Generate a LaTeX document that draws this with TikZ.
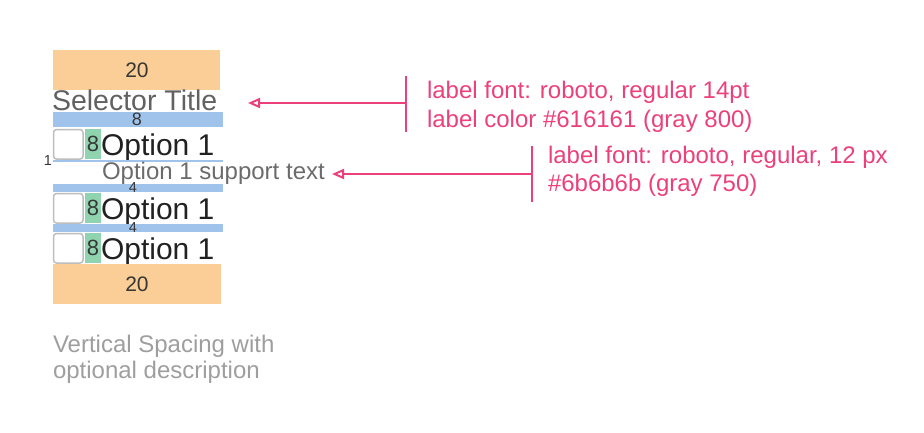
\documentclass[tikz,border=0pt]{standalone}
\usepackage{fontspec}
\setmainfont{Liberation Sans}
\usetikzlibrary{arrows.meta}
\definecolor{orangefill}{HTML}{FACE96}
\definecolor{bluefill}{HTML}{9FC3EB}
\definecolor{greenfill}{HTML}{8FD4AE}
\definecolor{boxgray}{HTML}{BDBDBD}
\definecolor{titlegray}{HTML}{616161}
\definecolor{supportgray}{HTML}{6B6B6B}
\definecolor{descgray}{HTML}{9E9E9E}
\definecolor{darktext}{HTML}{212121}
\definecolor{pinkann}{HTML}{EC407A}
\tikzset{
  orangebox/.style={fill=orangefill, draw=none},
  bluebox/.style={fill=bluefill, draw=none},
  greenbox/.style={fill=greenfill, draw=none},
  checkbox/.style={draw=boxgray, line width=1.5pt, rounded corners=3pt, fill=white},
  txt/.style={inner sep=0pt, outer sep=0pt, anchor=base west},
  ctxt/.style={inner sep=0pt, outer sep=0pt, anchor=center},
  bignum/.style={ctxt, text=darktext!90, font=\fontsize{21}{24}\selectfont},
  smallnum/.style={ctxt, text=darktext!90, font=\fontsize{18}{20}\selectfont},
  tinynum/.style={ctxt, text=darktext!90, font=\fontsize{14.5}{16}\selectfont},
  greennum/.style={ctxt, text=darktext!90, font=\fontsize{22}{26}\selectfont},
  optiontxt/.style={txt, text=darktext, font=\fontsize{30}{34}\selectfont},
  titletxt/.style={txt, text=titlegray, font=\fontsize{28.5}{32}\selectfont},
  supporttxt/.style={txt, text=supportgray, font=\fontsize{24}{27}\selectfont},
  desctxt/.style={txt, text=descgray, font=\fontsize{24}{27}\selectfont},
  anntxt/.style={txt, text=pinkann, font=\fontsize{24}{27}\selectfont},
  annline/.style={draw=pinkann, line width=2pt},
  annarrow/.style={annline, -{Triangle[open, length=12pt, width=10pt, line width=2pt]}},
}
\begin{document}
\begin{tikzpicture}[x=1pt, y=-1pt]
\useasboundingbox (0,0) rectangle (924,432);

% top spacer
\path[orangebox] (53,50) rectangle (220,90);
\node[bignum] (top20) at (137,70) {20};

% title
\node[titletxt] (title) at (52,110) {Selector Title};

% blue 8
\path[bluebox] (53,112) rectangle (223,127);
\node[smallnum] (sp8) at (137,119.5) {8};

% option row 1
\path[checkbox] (53.5,129.5) rectangle (83,159);
\path[greenbox] (85,129) rectangle (101,159);
\node[greennum] (g1) at (93,144) {8};
\node[optiontxt] (opt1) at (101,155) {Option 1};

% thin blue 1
\path[bluebox] (53,160) rectangle (223,162);
\node[tinynum] (sp1) at (48,160.5) {1};

% support text
\node[supporttxt] (support) at (102,179.5) {Option 1 support text};

% blue 4
\path[bluebox] (53,184) rectangle (223,192);
\node[tinynum] (sp4a) at (133,187.5) {4};

% option row 2
\path[checkbox] (53.5,193.5) rectangle (83,223);
\path[greenbox] (85,193) rectangle (101,223);
\node[greennum] (g2) at (93,208) {8};
\node[optiontxt] (opt2) at (101,219) {Option 1};

% blue 4
\path[bluebox] (53,224) rectangle (223,232);
\node[tinynum] (sp4b) at (133,227.5) {4};

% option row 3
\path[checkbox] (53.5,233.5) rectangle (83,263);
\path[greenbox] (85,233) rectangle (101,263);
\node[greennum] (g3) at (93,248) {8};
\node[optiontxt] (opt3) at (101,259) {Option 1};

% bottom spacer
\path[orangebox] (53,264) rectangle (221,304);
\node[bignum] (bot20) at (137,284) {20};

% description
\node[desctxt] (desc1) at (53,352) {Vertical Spacing with};
\node[desctxt] (desc2) at (53,378) {optional description};

% annotation 1
\coordinate (b1top) at (406,76);
\coordinate (b1bot) at (406,132);
\coordinate (b1mid) at (406,103);
\coordinate (a1tip) at (248,103);
\draw[annline] (b1top) -- (b1bot);
\draw[annarrow] (b1mid) -- (a1tip);
\node[anntxt] (ann1a) at (427,98) {label font: roboto, regular 14pt};
\node[anntxt] (ann1b) at (427,127) {label color \#616161 (gray 800)};

% annotation 2
\coordinate (b2top) at (532,146);
\coordinate (b2bot) at (532,202);
\coordinate (b2mid) at (532,174);
\coordinate (a2tip) at (332,174);
\draw[annline] (b2top) -- (b2bot);
\draw[annarrow] (b2mid) -- (a2tip);
\node[anntxt] (ann2a) at (548,163) {label font: roboto, regular, 12 px};
\node[anntxt] (ann2b) at (548,191) {\#6b6b6b (gray 750)};
\end{tikzpicture}
\end{document}
